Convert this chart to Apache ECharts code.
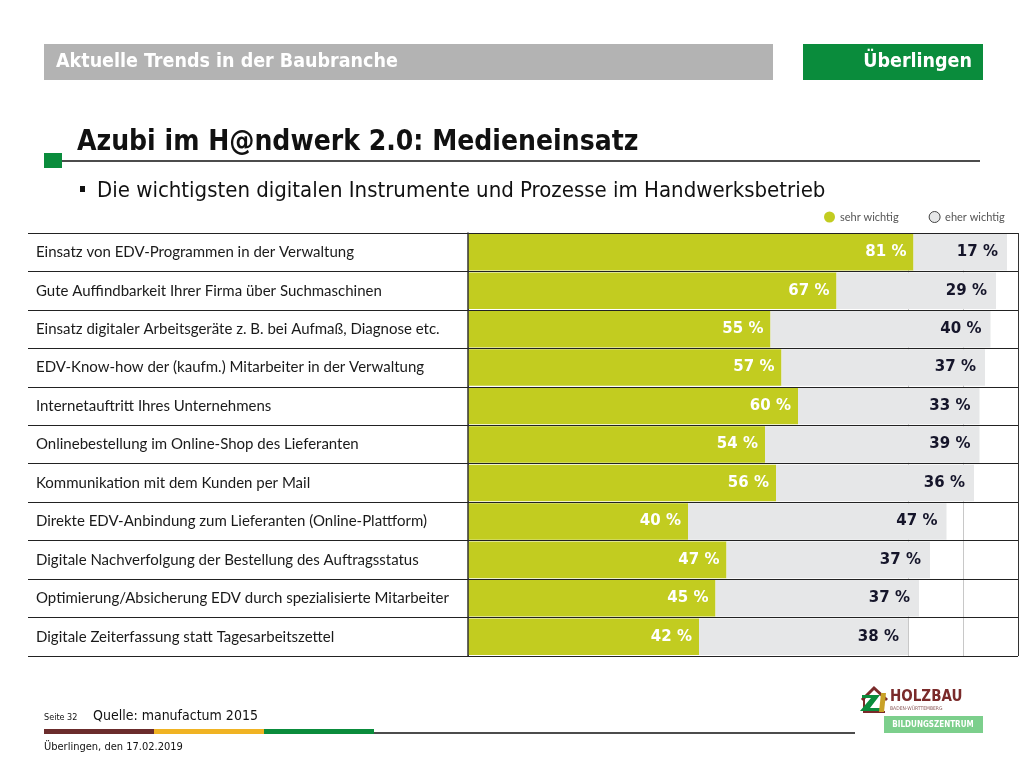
<!DOCTYPE html>
<html>
<head>
<meta charset="utf-8">
<script src="https://cdn.jsdelivr.net/npm/echarts@6/dist/echarts.min.js"></script>
<style>
html,body{margin:0;padding:0;background:#fff;}
#chart{width:1024px;height:768px;}
</style>
</head>
<body>
<div id="chart"></div>
<script>
const categories = [
  'Einsatz von EDV-Programmen in der Verwaltung',
  'Gute Auffindbarkeit Ihrer Firma über Suchmaschinen',
  'Einsatz digitaler Arbeitsgeräte z. B. bei Aufmaß, Diagnose etc.',
  'EDV-Know-how der (kaufm.) Mitarbeiter in der Verwaltung',
  'Internetauftritt Ihres Unternehmens',
  'Onlinebestellung im Online-Shop des Lieferanten',
  'Kommunikation mit dem Kunden per Mail',
  'Direkte EDV-Anbindung zum Lieferanten (Online-Plattform)',
  'Digitale Nachverfolgung der Bestellung des Auftragsstatus',
  'Optimierung/Absicherung EDV durch spezialisierte Mitarbeiter',
  'Digitale Zeiterfassung statt Tagesarbeitszettel'
];
const sehrWichtig = [81, 67, 55, 57, 60, 54, 56, 40, 47, 45, 42];
const eherWichtig = [17, 29, 40, 37, 33, 39, 36, 47, 37, 37, 38];
const seriesNames = ['sehr wichtig', 'eher wichtig'];

const chart = echarts.init(document.getElementById('chart'));
const labelFont = 'Lato, "Open Sans", sans-serif';
const headFont = '"DejaVu Sans Condensed", "DejaVu Sans", sans-serif';

const gridLineColors = ['#333'];
for (let i = 1; i < 10; i++) gridLineColors.push(i >= 8 ? '#c8c8c8' : 'rgba(0,0,0,0)');
gridLineColors.push('#333');

chart.setOption({
  animation: false,
  backgroundColor: '#fff',
  grid: { left: 468, right: 6, top: 233, bottom: 112, containLabel: false },
  legend: {
    left: 819, top: 206, itemGap: 30, itemWidth: 11, itemHeight: 11,
    textStyle: { fontSize: 11, color: '#555', fontFamily: labelFont },
    data: [
      { name: seriesNames[0], icon: 'circle' },
      { name: seriesNames[1], icon: 'circle', itemStyle: { color: '#e6e7e8', borderColor: '#444', borderWidth: 1 } }
    ]
  },
  xAxis: {
    type: 'value', min: 0, max: 100, interval: 10,
    axisLabel: { show: false }, axisTick: { show: false },
    axisLine: { show: false },
    splitLine: { show: true, lineStyle: { color: gridLineColors, width: 1 } }
  },
  yAxis: {
    type: 'category', inverse: true, data: categories,
    axisLine: { show: true, lineStyle: { color: '#333', width: 1.5 } },
    axisTick: { show: true, length: 440, lineStyle: { color: '#222', width: 1 } },
    axisLabel: { align: 'left', margin: 432, fontSize: 15, color: '#1a1a1a', fontFamily: labelFont },
    splitLine: { show: true, lineStyle: { color: '#222', width: 1 } },
    z: 5
  },
  series: [
    {
      name: seriesNames[0], type: 'bar', stack: 'total', data: sehrWichtig,
      barCategoryGap: '5%',
      itemStyle: { color: '#c2cc20' },
      label: { show: true, position: 'insideRight', distance: 7, formatter: '{c} %',
        color: '#fff', fontWeight: 'bold', fontSize: 15, fontFamily: '"DejaVu Sans", sans-serif' }
    },
    {
      name: seriesNames[1], type: 'bar', stack: 'total', data: eherWichtig,
      barCategoryGap: '5%',
      itemStyle: { color: '#e6e7e8' },
      label: { show: true, position: 'insideRight', distance: 9, formatter: '{c} %',
        color: '#15152a', fontWeight: 'bold', fontSize: 15, fontFamily: '"DejaVu Sans", sans-serif' }
    }
  ],
  graphic: [
    { type: 'rect', shape: { x: 44, y: 44, width: 729, height: 36 }, style: { fill: '#b3b3b3' } },
    { type: 'text', x: 56, y: 62, style: { text: 'Aktuelle Trends in der Baubranche', fill: '#fff', font: 'bold 19.5px ' + headFont, textVerticalAlign: 'middle' } },
    { type: 'rect', shape: { x: 803, y: 44, width: 180, height: 36 }, style: { fill: '#0a8c3c' } },
    { type: 'text', x: 972, y: 62, style: { text: 'Überlingen', fill: '#fff', font: 'bold 19.5px ' + headFont, textAlign: 'right', textVerticalAlign: 'middle' } },
    { type: 'text', x: 77, y: 143, style: { text: 'Azubi im H@ndwerk 2.0: Medieneinsatz', fill: '#111', font: 'bold 28px ' + headFont, textVerticalAlign: 'middle' } },
    { type: 'line', shape: { x1: 62, y1: 161, x2: 980, y2: 161 }, style: { stroke: '#111', lineWidth: 1.5 } },
    { type: 'rect', shape: { x: 44, y: 153, width: 18, height: 15 }, style: { fill: '#0a8c3c' } },
    { type: 'rect', shape: { x: 80, y: 186, width: 5, height: 6 }, style: { fill: '#111' } },
    { type: 'text', x: 97, y: 191, style: { text: 'Die wichtigsten digitalen Instrumente und Prozesse im Handwerksbetrieb', fill: '#111', font: '22px ' + headFont, textVerticalAlign: 'middle' } },
    { type: 'text', x: 44, y: 718, style: { text: 'Seite 32', fill: '#111', font: '9px ' + headFont, textVerticalAlign: 'middle' } },
    { type: 'text', x: 93, y: 716, style: { text: 'Quelle: manufactum 2015', fill: '#111', font: '14px ' + headFont, textVerticalAlign: 'middle' } },
    { type: 'rect', shape: { x: 44, y: 729, width: 110, height: 5 }, style: { fill: '#6b2c2c' } },
    { type: 'rect', shape: { x: 154, y: 729, width: 110, height: 5 }, style: { fill: '#f0b323' } },
    { type: 'rect', shape: { x: 264, y: 729, width: 110, height: 5 }, style: { fill: '#0a8c3c' } },
    { type: 'line', shape: { x1: 374, y1: 733, x2: 855, y2: 733 }, style: { stroke: '#111', lineWidth: 1.5 } },
    { type: 'text', x: 44, y: 747, style: { text: 'Überlingen, den 17.02.2019', fill: '#111', font: '11px ' + headFont, textVerticalAlign: 'middle' } },
    { type: 'polyline', shape: { points: [[862, 700], [874, 688], [887, 700]] }, style: { stroke: '#7a2a2a', lineWidth: 3, fill: null } },
    { type: 'polyline', shape: { points: [[864, 699], [864, 712], [885, 712]] }, style: { stroke: '#7a2a2a', lineWidth: 2, fill: null } },
    { type: 'polygon', shape: { points: [[862, 695], [880, 695], [870, 708], [883, 708], [883, 711], [860, 711], [871, 698], [862, 698]] }, style: { fill: '#0a8c3c' } },
    { type: 'polygon', shape: { points: [[881, 693], [886, 693], [884, 712], [879, 712]] }, style: { fill: '#c9a227' } },
    { type: 'text', x: 890, y: 697, style: { text: 'HOLZBAU', fill: '#7a2a2a', font: 'bold 15px ' + headFont, textVerticalAlign: 'middle' } },
    { type: 'text', x: 890, y: 709, style: { text: 'BADEN-WÜRTTEMBERG', fill: '#8a5a5a', font: '5px ' + headFont, textVerticalAlign: 'middle' } },
    { type: 'rect', shape: { x: 884, y: 716, width: 99, height: 17 }, style: { fill: '#7ccf8c' } },
    { type: 'text', x: 933, y: 724.5, style: { text: 'BILDUNGSZENTRUM', fill: '#fff', font: 'bold 8px ' + headFont, textAlign: 'center', textVerticalAlign: 'middle' } }
  ]
});
</script>
</body>
</html>
